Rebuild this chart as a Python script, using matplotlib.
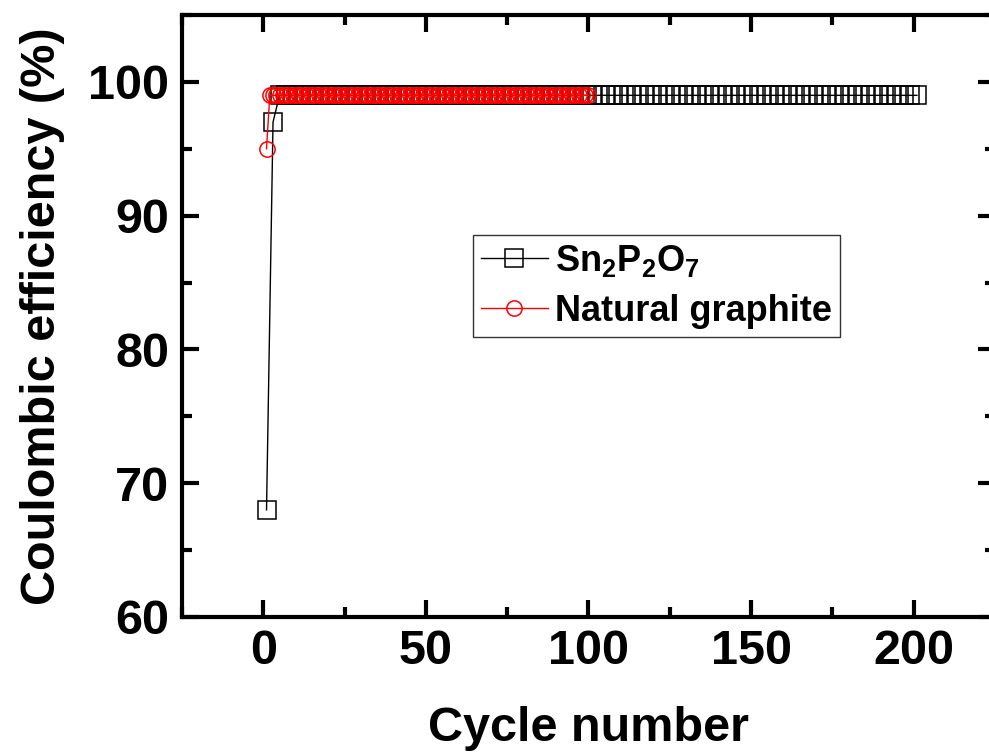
import numpy as np
import matplotlib
matplotlib.use("Agg")
import matplotlib.pyplot as plt
from matplotlib.ticker import MultipleLocator

plt.rcParams['font.family'] = ['Liberation Sans', 'DejaVu Sans']
plt.rcParams['font.weight'] = 'bold'
plt.rcParams['mathtext.fontset'] = 'custom'
plt.rcParams['mathtext.rm'] = 'Liberation Sans:bold'
plt.rcParams['mathtext.default'] = 'rm'

# Sn2P2O7 (every other cycle), natural graphite (every cycle)
sn_cycle = list(range(1, 202, 2))
sn_eff = [68, 97] + [99] * 99
ng_cycle = list(range(1, 101))
ng_eff = [95, 99] + [99] * 98

fig = plt.figure(figsize=(9.89, 7.55), dpi=100)
ax = fig.add_axes([0.184, 0.183, 0.822, 0.797])

ax.plot(sn_cycle, sn_eff, color='black', lw=1, marker='s', ms=12.5,
        mfc='none', mec='black', mew=1.1, label=r'Sn$_2$P$_2$O$_7$')
ax.plot(ng_cycle, ng_eff, color='red', lw=1, marker='o', ms=11,
        mfc='none', mec='red', mew=1.1, label='Natural graphite')

ax.set_xlim(-25, 225)
ax.set_ylim(60, 105)
ax.xaxis.set_major_locator(MultipleLocator(50))
ax.xaxis.set_minor_locator(MultipleLocator(25))
ax.yaxis.set_major_locator(MultipleLocator(10))
ax.yaxis.set_minor_locator(MultipleLocator(5))
ax.tick_params(which='both', direction='in', top=True, right=True,
               labelsize=35, width=3, pad=9)
ax.tick_params(which='major', length=12)
ax.tick_params(which='minor', length=7)
for s in ax.spines.values():
    s.set_linewidth(3)

ax.set_xlabel('Cycle number', fontsize=35, fontweight='bold', labelpad=23)
ax.set_ylabel('Coulombic efficiency (%)', fontsize=35, fontweight='bold', labelpad=17)

leg = ax.legend(loc='upper left', bbox_to_anchor=(0.358, 0.635), fontsize=26,
                frameon=True, fancybox=False, edgecolor='black',
                handlelength=1.85, borderpad=0.22, labelspacing=0.42,
                handletextpad=0.2, borderaxespad=0)
leg.get_frame().set_linewidth(1)

fig.savefig('out.png', dpi=100)
